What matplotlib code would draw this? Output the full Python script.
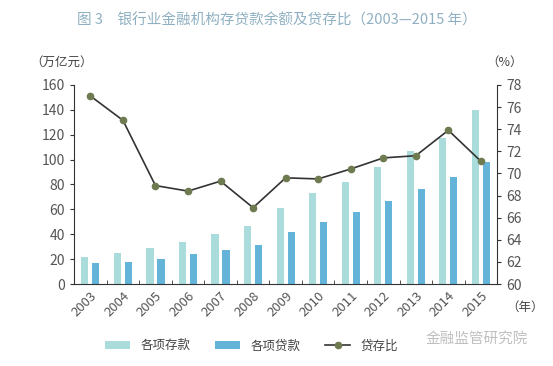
import matplotlib
matplotlib.use("Agg")
import matplotlib.pyplot as plt
import numpy as np

plt.rcParams['font.family'] = ['Noto Sans CJK SC', 'DejaVu Sans']

years = ['2003', '2004', '2005', '2006', '2007', '2008', '2009',
         '2010', '2011', '2012', '2013', '2014', '2015']
deposits = [22, 25, 29, 34, 40, 47, 61, 73, 82, 94, 107, 117, 140]
loans = [17, 18, 20, 24, 27, 31, 42, 50, 58, 67, 76, 86, 98]
ratio = [77.0, 74.8, 68.9, 68.4, 69.3, 66.9, 69.6, 69.5, 70.4, 71.4, 71.6, 73.9, 71.1]

c_dep = '#abdcdc'
c_loan = '#63b4d8'
c_txt = '#555555'

fig = plt.figure(figsize=(5.53, 3.66), dpi=100)
ax = fig.add_axes([0.134, 0.224, 0.765, 0.544])
x = np.arange(len(years))
b1 = ax.bar(x - 0.17, deposits, width=0.22, color=c_dep, label='各项存款')
b2 = ax.bar(x + 0.17, loans, width=0.22, color=c_loan, label='各项贷款')
ax.set_xlim(-0.5, len(years) - 0.5)
ax.set_ylim(0, 160)
ax.set_yticks(range(0, 161, 20))
ax.set_xticks(x)
ax.set_xticklabels(years, rotation=45, ha='right', rotation_mode='anchor')
ax.set_xticks(np.arange(-0.5, len(years), 1), minor=True)
ax.tick_params(axis='x', which='major', length=0, pad=4, labelsize=9.5, labelcolor=c_txt)
ax.tick_params(axis='x', which='minor', length=3, direction='in', color='#333333')
ax.tick_params(axis='y', length=3, labelsize=10, labelcolor=c_txt, color='#333333')
ax.spines['top'].set_visible(False)
ax.spines['right'].set_visible(False)
for s in ['left', 'bottom']:
    ax.spines[s].set_color('#333333')

ax2 = ax.twinx()
ln, = ax2.plot(x, ratio, color='#333333', lw=1.2, marker='o', ms=4.5,
               mfc='#6e7a50', mec='#6e7a50', label='贷存比')
ax2.set_ylim(60, 78)
ax2.set_yticks(range(60, 79, 2))
ax2.tick_params(axis='y', length=3, labelsize=10, labelcolor=c_txt, color='#333333')
ax2.spines['top'].set_visible(False)
ax2.spines['right'].set_color('#333333')
ax2.spines['left'].set_visible(False)
ax2.spines['bottom'].set_visible(False)

fig.text(0.5, 0.945, '图 3　银行业金融机构存贷款余额及贷存比（2003—2015 年）',
         ha='center', va='center', fontsize=10.5, color='#8fb0c2')
fig.text(0.055, 0.83, '（万亿元）', ha='left', va='center', fontsize=9, color='#444444')
fig.text(0.88, 0.83, '（%）', ha='left', va='center', fontsize=9, color='#444444')
fig.text(0.915, 0.16, '（年）', ha='left', va='center', fontsize=9, color='#444444')

fig.legend(handles=[b1, b2, ln], loc='center', bbox_to_anchor=(0.455, 0.055),
           ncol=3, frameon=False, fontsize=9, handlelength=2.0,
           columnspacing=2.0, labelcolor='#444444')
fig.text(0.955, 0.075, '金融监管研究院', ha='right', va='center', fontsize=10.5,
         color='#b0b0b0', alpha=0.8)

fig.savefig('out.png', dpi=100)
